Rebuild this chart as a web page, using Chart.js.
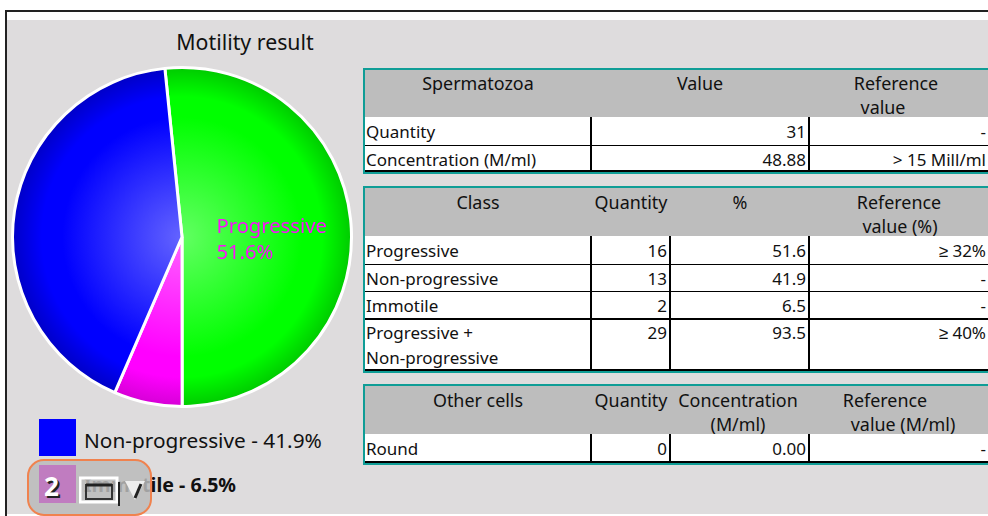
<!DOCTYPE html>
<html>
<head>
<meta charset="utf-8">
<title>Motility result</title>
<script src="https://cdn.jsdelivr.net/npm/chart.js@4"></script>
<style>
    html, body { margin: 0; padding: 0; background: #fff; overflow: hidden; }
    body { width: 988px; height: 516px; position: relative; font-family: "Noto Sans", sans-serif; color: #111; }
    #frame { position: absolute; left: 5px; top: 10px; width: 983px; height: 506px; border-left: 2px solid #222; border-top: 2px solid #222; box-sizing: border-box; }
    #panel { position: absolute; left: 7px; top: 20px; width: 981px; height: 494px; background: #dedcdd; }
    #title { position: absolute; left: 145px; width: 200px; top: 27px; text-align: center; font-size: 21.3px; line-height: 30px; }
    #pie-wrap { position: absolute; left: 10px; top: 65px; width: 345px; height: 345px; }
    .swatch { position: absolute; left: 39px; width: 37px; height: 37px; }
    .legend-text { position: absolute; left: 84px; font-size: 20.8px; line-height: 28px; white-space: nowrap; }
    .tbl { position: absolute; left: 363px; width: 640px; box-sizing: border-box; border: 2px solid #0f9d96; background: #fff; overflow: hidden; }
    .head { position: absolute; left: 0; top: 0; width: 100%; background: #bdbdbd; }
    .txt { position: absolute; font-size: 17px; line-height: 24px; white-space: nowrap; }
    .txt.htxt { font-size: 17.9px; }
    .hl { position: absolute; left: 0; width: 100%; background: #000; }
    .vl { position: absolute; width: 2px; background: #000; }
    #badge { position: absolute; left: 27px; top: 459px; width: 125px; height: 57px; box-sizing: border-box; border: 2px solid #f0824e; border-radius: 17px; background: rgba(187,187,187,0.85); }
    #badge-swatch { position: absolute; left: 10px; top: 4px; width: 37px; height: 38px; background: #c07cc0; }
    #badge-num { position: absolute; left: 15px; top: 10px; font: bold 26px/30px "Noto Sans", sans-serif; color: #fff; text-shadow: 2px 2px 0 #222; }
</style>
</head>
<body>
<div id="frame"></div>
<div id="panel"></div>
<div id="title"></div>
<div id="pie-wrap"><canvas id="pie" width="345" height="345"></canvas></div>
<div id="legend"></div>
<div id="tables"></div>
<div id="badge">
    <div id="badge-swatch"></div>
    <div id="badge-num">2</div>
    <svg width="90" height="40" style="position:absolute;left:50px;top:15px">
        <rect x="1" y="2" width="37" height="24" fill="none" stroke="#fff" stroke-width="3"/>
        <rect x="7" y="9" width="26" height="14" fill="none" stroke="#333" stroke-width="2"/>
        <path d="M7 9 H33" stroke="#222" stroke-width="3"/>
        <path d="M40 6 V30" stroke="#222" stroke-width="2"/>
        <path d="M46 5 L66 5 L56 24 Z" fill="#eee"/>
        <path d="M62 8 L56 22" stroke="#222" stroke-width="3"/>
    </svg>
</div>
<script>
const chartTitle = 'Motility result';
const pieLabels = ['Progressive', 'Immotile', 'Non-progressive'];
const pieValues = [51.6, 6.5, 41.9];
const legendEntries = ['Non-progressive - 41.9%', 'Immotile - 6.5%'];

const spermHeader = [['Spermatozoa'], ['Value'], ['Reference', 'value']];
const spermRows = [
    ['Quantity', '31', '-'],
    ['Concentration (M/ml)', '48.88', '> 15 Mill/ml']
];
const classHeader = [['Class'], ['Quantity'], ['%'], ['Reference', 'value (%)']];
const classRows = [
    ['Progressive', '16', '51.6', '≥ 32%'],
    ['Non-progressive', '13', '41.9', '-'],
    ['Immotile', '2', '6.5', '-'],
    ['Progressive +\nNon-progressive', '29', '93.5', '≥ 40%']
];
const otherHeader = [['Other cells'], ['Quantity'], ['Concentration', '(M/ml)'], ['Reference', 'value (M/ml)']];
const otherRows = [['Round', '0', '0.00', '-']];

// gradient stops per slice: centre, mid, rim
const sliceShades = [
    ['#62ff62', '#00ff00', '#00c800'],
    ['#ff62ff', '#ff00ff', '#d400d4'],
    ['#6464ff', '#0000ff', '#0000c4']
];

document.getElementById('title').textContent = chartTitle;

const legendEl = document.getElementById('legend');
[['#0000ff', 419, 426, 'normal', 20.8], ['#ff00ff', 465, 471, 'bold', 19.6]].forEach((style, i) => {
    const sw = document.createElement('div');
    sw.className = 'swatch';
    sw.style.background = style[0];
    sw.style.top = style[1] + 'px';
    legendEl.appendChild(sw);
    const txt = document.createElement('div');
    txt.className = 'legend-text';
    txt.style.top = style[2] + 'px';
    txt.style.fontWeight = style[3];
    txt.style.fontSize = style[4] + 'px';
    txt.textContent = legendEntries[i];
    legendEl.appendChild(txt);
});

// box: top, height, header height, column dividers, header text centres, row tops
const buildTable = (top, height, headH, dividers, headSpots, headY, rowTops, header, rows) => {
    const box = document.createElement('div');
    box.className = 'tbl';
    box.style.top = top + 'px';
    box.style.height = height + 'px';
    const head = document.createElement('div');
    head.className = 'head';
    head.style.height = headH + 'px';
    box.appendChild(head);
    const addText = (text, x, y, w, align, isHead) => {
        const el = document.createElement('div');
        el.className = isHead ? 'txt htxt' : 'txt';
        el.style.left = x + 'px';
        el.style.top = y + 'px';
        el.style.width = w + 'px';
        el.style.textAlign = align;
        el.textContent = text;
        box.appendChild(el);
    };
    header.forEach((lines, c) => {
        lines.forEach((line, l) => {
            addText(line, headSpots[c][l] - 100, headY + l * 24, 200, 'center', true);
        });
    });
    const edges = [0].concat(dividers, [623]);
    rows.forEach((row, r) => {
        const y = rowTops[r] + 2;
        row.forEach((cell, c) => {
            cell.split('\n').forEach((line, l) => {
                if (c === 0) addText(line, 1, y + l * 25, 220, 'left');
                else addText(line, edges[c] + 2, y, edges[c + 1] - edges[c] - 4, 'right');
            });
        });
    });
    dividers.forEach((x) => {
        const v = document.createElement('div');
        v.className = 'vl';
        v.style.left = x + 'px';
        v.style.top = headH + 'px';
        v.style.height = (height - headH) + 'px';
        box.appendChild(v);
    });
    rowTops.forEach((y, r) => {
        if (r === 0) return;
        const h = document.createElement('div');
        h.className = 'hl';
        h.style.top = (y - 1) + 'px';
        h.style.height = r === 3 ? '2px' : '1px';
        box.appendChild(h);
    });
    const bottom = document.createElement('div');
    bottom.className = 'hl';
    bottom.style.top = (height - 6) + 'px';
    bottom.style.height = '2px';
    box.appendChild(bottom);
    document.getElementById('tables').appendChild(box);
};

buildTable(68, 106, 47, [225, 443], [[113], [335], [531, 518]], 1, [48, 76], spermHeader, spermRows);
buildTable(186, 187, 48, [225, 304, 443], [[113], [266], [375], [534, 535]], 2, [49, 77, 104, 131], classHeader, classRows);
buildTable(384, 81, 48, [225, 304, 443], [[113], [266], [373, 373], [520, 538]], 2, [49], otherHeader, otherRows);

const sliceGradient = (context) => {
    const chart = context.chart;
    const area = chart.chartArea;
    if (!area) return sliceShades[context.dataIndex][1];
    const cx = (area.left + area.right) / 2;
    const cy = (area.top + area.bottom) / 2;
    const r = Math.min(area.right - area.left, area.bottom - area.top) / 2;
    const grad = chart.ctx.createRadialGradient(cx, cy, 0, cx, cy, r);
    const shades = sliceShades[context.dataIndex];
    grad.addColorStop(0, shades[0]);
    grad.addColorStop(0.7, shades[1]);
    grad.addColorStop(0.82, shades[1]);
    grad.addColorStop(1, shades[2]);
    return grad;
};

const sliceCaption = {
    id: 'sliceCaption',
    afterDatasetsDraw(chart) {
        const arc = chart.getDatasetMeta(0).data[0];
        const pos = arc.getCenterPoint();
        const ctx = chart.ctx;
        ctx.save();
        ctx.fillStyle = '#fb10fb';
        ctx.font = '20.2px "Noto Sans", sans-serif';
        ctx.textAlign = 'left';
        ctx.textBaseline = 'middle';
        const x = pos.x - ctx.measureText(pieLabels[0]).width / 2 + 5;
        ctx.fillText(pieLabels[0], x, pos.y - 5);
        ctx.fillText(pieValues[0].toFixed(1) + '%', x, pos.y + 21);
        ctx.restore();
    }
};

new Chart(document.getElementById('pie').getContext('2d'), {
    type: 'pie',
    data: {
        labels: pieLabels,
        datasets: [{
            data: pieValues,
            backgroundColor: sliceGradient,
            borderColor: '#ffffff',
            borderWidth: 3
        }]
    },
    options: {
        responsive: false,
        animation: false,
        rotation: -5.8,
        layout: { padding: { left: 1, top: 1, right: 2, bottom: 2 } },
        plugins: {
            legend: { display: false },
            tooltip: { enabled: false }
        }
    },
    plugins: [sliceCaption]
});
</script>
</body>
</html>
